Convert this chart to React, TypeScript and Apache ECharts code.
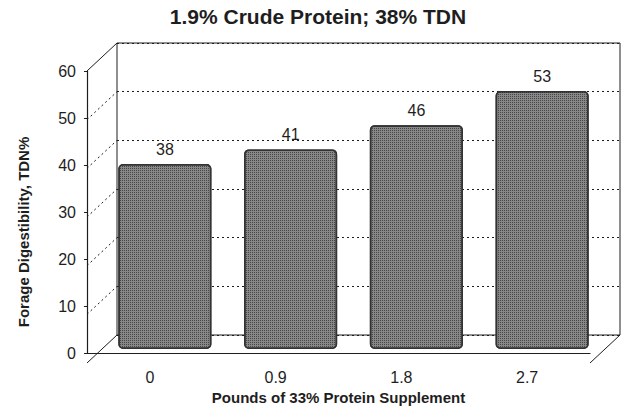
import React, { useEffect, useRef } from "react";
import * as echarts from "echarts";

const categories = ["0", "0.9", "1.8", "2.7"];
const values = [38, 41, 46, 53];
const yTicks = [0, 10, 20, 30, 40, 50, 60];
const titleText = "1.9% Crude Protein; 38% TDN";
const xTitle = "Pounds of 33% Protein Supplement";
const yTitle = "Forage Digestibility, TDN%";

const Y_MIN = 0;
const Y_MAX = 60;
const Y_INT = 10;

// layout of the pseudo-3D box
const FRONT = { left: 87, top: 71, width: 503, height: 292 };
const DEPTH = { dx: 30, dy: -28 };

const FONT = "'Liberation Sans', Arial, sans-serif";
const INK = "#1e1e1e";

export default function App() {
  const ref = useRef<HTMLDivElement>(null);

  useEffect(() => {
    if (!ref.current) return;
    const chart = echarts.init(ref.current, undefined, { renderer: "svg" });

    const mid = {
      left: FRONT.left + DEPTH.dx / 2,
      top: FRONT.top + DEPTH.dy / 2,
      width: FRONT.width,
      height: FRONT.height,
    };
    const back = {
      left: FRONT.left + DEPTH.dx,
      top: FRONT.top + DEPTH.dy,
      width: FRONT.width,
      height: FRONT.height,
    };

    const yFront = (v: number) =>
      FRONT.top + FRONT.height * (1 - (v - Y_MIN) / (Y_MAX - Y_MIN));

    const graphics: any[] = [];
    yTicks.forEach((v) => {
      const solid = v === Y_MIN || v === Y_MAX;
      graphics.push({
        type: "line",
        shape: {
          x1: FRONT.left,
          y1: yFront(v),
          x2: FRONT.left + DEPTH.dx,
          y2: yFront(v) + DEPTH.dy,
        },
        style: {
          stroke: INK,
          lineWidth: 1,
          lineDash: solid ? null : [2, 3],
        },
        silent: true,
      });
    });
    // right floor edge
    graphics.push({
      type: "line",
      shape: {
        x1: FRONT.left + FRONT.width,
        y1: yFront(Y_MIN),
        x2: FRONT.left + FRONT.width + DEPTH.dx,
        y2: yFront(Y_MIN) + DEPTH.dy,
      },
      style: { stroke: INK, lineWidth: 1 },
      silent: true,
    });
    // y-axis title
    graphics.push({
      type: "text",
      x: 23,
      y: 232,
      rotation: Math.PI / 2,
      style: {
        text: yTitle,
        fontSize: 15,
        fontWeight: "bold",
        fontFamily: FONT,
        fill: INK,
        align: "center",
        verticalAlign: "middle",
      },
      silent: true,
    });

    chart.setOption({
      animation: false,
      backgroundColor: "#fff",
      textStyle: { fontFamily: FONT },
      aria: { enabled: true, decal: { show: true } },
      title: {
        text: titleText,
        left: 318,
        textAlign: "center",
        top: 6,
        padding: 0,
        textStyle: {
          fontFamily: FONT,
          fontSize: 21,
          fontWeight: "bold",
          color: INK,
        },
      },
      grid: [
        { ...FRONT, containLabel: false },
        { ...mid, containLabel: false },
        {
          ...back,
          containLabel: false,
          show: true,
          borderColor: INK,
          borderWidth: 1,
          backgroundColor: "transparent",
          z: 0,
        },
      ],
      xAxis: [
        {
          type: "category",
          gridIndex: 0,
          data: categories,
          axisLine: { show: true, lineStyle: { color: INK, width: 1.2 } },
          axisTick: { show: false },
          axisLabel: { fontSize: 16, color: INK, margin: 16, fontFamily: FONT },
          name: xTitle,
          nameLocation: "middle",
          nameGap: 36,
          nameTextStyle: {
            fontSize: 15,
            fontWeight: "bold",
            color: INK,
            fontFamily: FONT,
          },
          splitLine: { show: false },
        },
        {
          type: "category",
          gridIndex: 1,
          data: categories,
          show: false,
        },
        {
          type: "category",
          gridIndex: 2,
          data: categories,
          show: false,
        },
      ],
      yAxis: [
        {
          type: "value",
          gridIndex: 0,
          min: Y_MIN,
          max: Y_MAX,
          interval: Y_INT,
          axisLine: { show: true, lineStyle: { color: INK, width: 1.2 } },
          axisTick: { show: true, length: 3, lineStyle: { color: INK } },
          axisLabel: { fontSize: 16, color: INK, margin: 11, fontFamily: FONT },
          splitLine: { show: false },
        },
        {
          type: "value",
          gridIndex: 1,
          min: Y_MIN,
          max: Y_MAX,
          interval: Y_INT,
          show: false,
        },
        {
          type: "value",
          gridIndex: 2,
          min: Y_MIN,
          max: Y_MAX,
          interval: Y_INT,
          axisLine: { show: false },
          axisTick: { show: false },
          axisLabel: { show: false },
          splitLine: {
            show: true,
            lineStyle: { color: INK, type: [2, 3], width: 1 },
          },
        },
      ],
      series: [
        {
          type: "bar",
          xAxisIndex: 1,
          yAxisIndex: 1,
          data: values,
          barWidth: "74%",
          z: 5,
          itemStyle: {
            color: "#878787",
            borderColor: "#333",
            borderWidth: 1.5,
            borderRadius: 4,
            decal: {
              symbol: "rect",
              symbolSize: 1,
              color: "rgba(20,20,20,0.55)",
              dashArrayX: [1, 1],
              dashArrayY: [1, 1],
              rotation: 0,
            },
          },
          label: {
            show: true,
            position: "top",
            distance: 7,
            fontSize: 16,
            color: INK,
            fontFamily: FONT,
          },
        },
      ],
      graphic: graphics,
    });

    return () => chart.dispose();
  }, []);

  return (
    <div
      ref={ref}
      style={{ position: "fixed", left: 0, top: 0, width: 621, height: 410 }}
    />
  );
}
